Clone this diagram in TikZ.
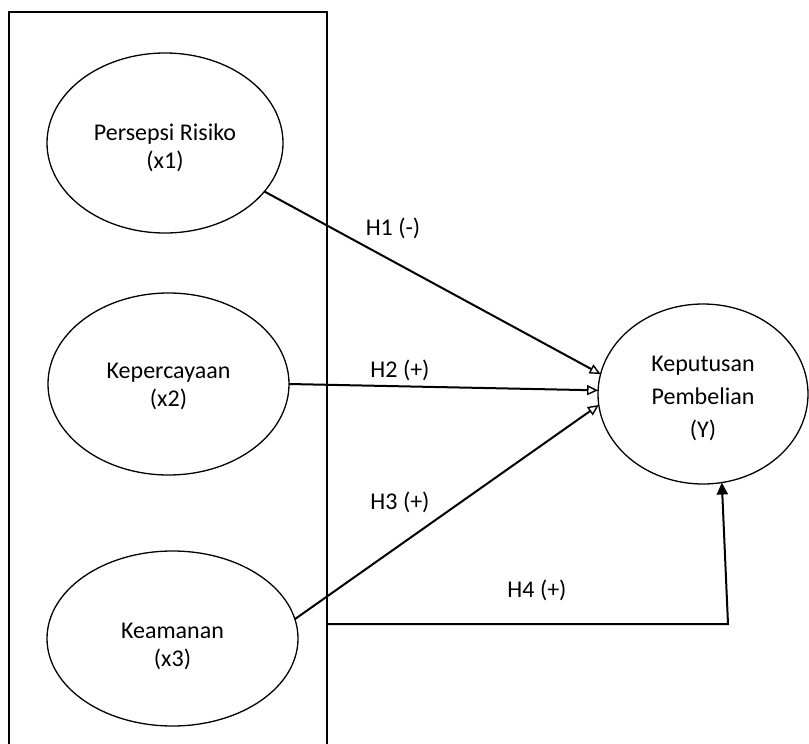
\documentclass[tikz,border=0pt]{standalone}
\usepackage{fontspec}
\setmainfont{Carlito}
\usetikzlibrary{shapes.geometric,arrows.meta}
\newcommand\lowtext[2]{\raisebox{-#1}[\height][\depth]{\begin{tabular}{@{}c@{}}#2\end{tabular}}}
\begin{document}
\begin{tikzpicture}[x=1pt,y=-1pt,
  var/.style={draw,ellipse,line width=1.3pt,inner sep=0pt,outer sep=0pt,
    font=\fontsize{24}{28}\selectfont},
  lbl/.style={font=\fontsize{24}{28}\selectfont,inner sep=0pt},
  conn/.style={line width=2pt,-{Triangle[open,length=11pt,width=10pt,line width=1.4pt]}},
  conn4/.style={line width=2pt,-{Triangle[length=12pt,width=11pt]}}]
\useasboundingbox (0,0) rectangle (809,744);
% group frame
\draw[line width=1.5pt] (9,746) -- (9,12) -- (327,12) -- (327,746);
% variables
\node[var,minimum width=236pt,minimum height=180pt] (e1) at (165,143) {\lowtext{6pt}{Persepsi Risiko\\(x1)}};
\node[var,minimum width=241pt,minimum height=182pt] (e2) at (168.5,384) {\lowtext{3pt}{Kepercayaan\\(x2)}};
\node[var,minimum width=251pt,minimum height=175pt] (e3) at (172.5,638.5) {\lowtext{8pt}{Keamanan\\(x3)}};
\node[var,minimum width=210pt,minimum height=180pt,font=\fontsize{24}{33}\selectfont] (Y) at (703,394) {\lowtext{4pt}{Keputusan\\Pembelian\\(Y)}};
% connectors
\draw[conn] (e1.-26) -- (Y.169);
\draw[conn] (e2.0) -- (Y.178.5);
\draw[conn] (e3.9) -- (Y.186);
\coordinate (h4s) at (327,624);
\coordinate (h4c) at (728,624);
\draw[conn4] (h4s) -- (h4c) -- (Y.-78);
% labels
\node[lbl] (l1) at (393,228) {H1 (-)};
\node[lbl] (l2) at (400,370) {H2 (+)};
\node[lbl] (l3) at (400,502) {H3 (+)};
\node[lbl] (l4) at (537,590) {H4 (+)};
\end{tikzpicture}
\end{document}
